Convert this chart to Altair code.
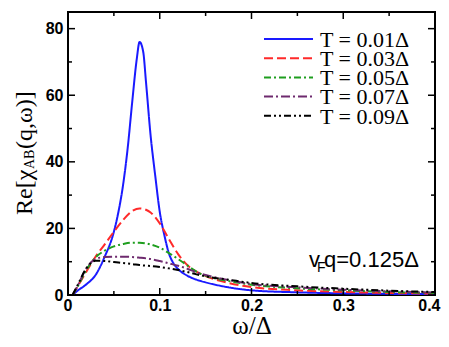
import altair as alt
import pandas as pd

# ---- data ----
omega_blue = [0.005, 0.01, 0.02, 0.03, 0.04, 0.05, 0.055, 0.06, 0.065, 0.07, 0.075, 0.078,
              0.082, 0.085, 0.09, 0.095, 0.1, 0.105, 0.11, 0.115, 0.12, 0.13, 0.14, 0.15,
              0.175, 0.2, 0.25, 0.3, 0.35, 0.4]
chi_T001 = [0, 1.2, 3.2, 6, 11.5, 19, 25, 33, 44, 58, 71, 76,
            73, 64, 48, 36, 25, 18, 12.5, 9.5, 7.8, 5.8, 4.6, 3.8,
            2.3, 1.4, 0.8, 0.5, 0.35, 0.25]

omega_rest = [0.005, 0.01, 0.02, 0.03, 0.04, 0.05, 0.06, 0.07, 0.078, 0.085, 0.09, 0.1,
              0.11, 0.12, 0.13, 0.14, 0.15, 0.175, 0.2, 0.25, 0.3, 0.35, 0.4]
chi_T003 = [0, 2.3, 7, 11.5, 15.2, 19, 22.5, 25.2, 26, 25.6, 24.8, 21.5,
            16.8, 12.3, 9, 7, 5.7, 3.6, 2.4, 1.4, 0.9, 0.6, 0.4]
chi_T005 = [0, 2.3, 7.5, 11.3, 13.3, 14.6, 15.3, 15.7, 15.7, 15.5, 15.2, 14.2,
            12.6, 10.8, 8.9, 7.0, 5.8, 4.2, 3.1, 2.0, 1.4, 0.9, 0.6]
chi_T007 = [0, 2.5, 8, 10.8, 11.4, 11.5, 11.5, 11.4, 11.2, 11.0, 10.8, 10.2,
            9.5, 8.8, 7.9, 6.8, 6.0, 4.5, 3.3, 2.3, 1.6, 1.1, 0.7]
chi_T009 = [0, 2.7, 8, 10.3, 10.2, 9.9, 9.6, 9.3, 9.0, 8.8, 8.7, 8.4,
            8.0, 7.5, 6.9, 6.2, 5.6, 4.6, 3.6, 2.6, 1.9, 1.3, 0.9]

labels = ["T = 0.01Δ", "T = 0.03Δ", "T = 0.05Δ", "T = 0.07Δ", "T = 0.09Δ"]
colors = ["#1a1aff", "#ff2a2a", "#1e9e1e", "#6e2a6e", "#000000"]
dashes = [[1, 0], [9, 4], [7, 3, 2, 3], [9, 3, 2, 3], [7, 3, 2, 3, 2, 3]]

x_major = [0, 0.1, 0.2, 0.3, 0.4]
x_minor = [0.05, 0.15, 0.25, 0.35]
y_major = [0, 20, 40, 60, 80]
y_minor = [10, 30, 50, 70]

W, H = 367, 283

rows = []
for w, c in zip(omega_blue, chi_T001):
    rows.append({"omega": w, "chi": c, "T": labels[0]})
for lab, ser in zip(labels[1:], [chi_T003, chi_T005, chi_T007, chi_T009]):
    for w, c in zip(omega_rest, ser):
        rows.append({"omega": w, "chi": c, "T": lab})
df = pd.DataFrame(rows)

xs = alt.Scale(domain=[0, 0.4], nice=False, zero=False)
ys = alt.Scale(domain=[0, 85], nice=False)
cs = alt.Scale(domain=labels, range=colors)
ds = alt.Scale(domain=labels, range=dashes)

lines = alt.Chart(df).mark_line(strokeWidth=2, interpolate="monotone", clip=True).encode(
    x=alt.X("omega:Q", scale=xs,
            axis=alt.Axis(values=x_major, ticks=False, domain=False, grid=False,
                          labelExpr="datum.value == 0 ? '0' : format(datum.value, '.1f')",
                          labelFont="Liberation Sans", labelFontSize=16, labelFontWeight="bold",
                          labelColor="black", labelPadding=2,
                          labelFlush=True, labelFlushOffset=5,
                          title="ω/Δ", titleFont="Liberation Serif", titleFontSize=25,
                          titleFontWeight="normal", titleColor="black",
                          titleY=38, titleBaseline="alphabetic")),
    y=alt.Y("chi:Q", scale=ys,
            axis=alt.Axis(values=y_major, ticks=False, domain=False, grid=False,
                          labelFont="Liberation Sans", labelFontSize=16, labelFontWeight="bold",
                          labelColor="black", labelPadding=5, title=None)),
    color=alt.Color("T:N", scale=cs, legend=None),
    strokeDash=alt.StrokeDash("T:N", scale=ds, legend=None),
    detail="T:N",
)

# inward ticks
def xticks(vals, length):
    d = pd.DataFrame({"v": vals})
    bot = alt.Chart(d).mark_rule(color="black", strokeWidth=1.5).encode(
        x=alt.X("v:Q", scale=xs), y=alt.value(H), y2=alt.value(H - length))
    top = alt.Chart(d).mark_rule(color="black", strokeWidth=1.5).encode(
        x=alt.X("v:Q", scale=xs), y=alt.value(0), y2=alt.value(length))
    return bot + top

def yticks(vals, length):
    d = pd.DataFrame({"v": vals})
    left = alt.Chart(d).mark_rule(color="black", strokeWidth=1.5).encode(
        y=alt.Y("v:Q", scale=ys), x=alt.value(0), x2=alt.value(length))
    right = alt.Chart(d).mark_rule(color="black", strokeWidth=1.5).encode(
        y=alt.Y("v:Q", scale=ys), x=alt.value(W), x2=alt.value(W - length))
    return left + right

ticks = xticks(x_major, 7) + xticks(x_minor, 4) + yticks(y_major, 7) + yticks(y_minor, 4)

# manual legend
leg = pd.DataFrame({"T": labels,
                    "ly": [27 + 19.2 * i for i in range(5)],
                    "ty": [34.7 + 19.2 * i for i in range(5)]})
leg_lines = alt.Chart(leg).mark_rule(strokeWidth=2).encode(
    x=alt.value(196), x2=alt.value(245),
    y=alt.Y("ly:Q", scale=None),
    color=alt.Color("T:N", scale=cs, legend=None),
    strokeDash=alt.StrokeDash("T:N", scale=ds, legend=None),
)
leg_text = alt.Chart(leg).mark_text(align="left", baseline="alphabetic",
                                    font="Liberation Serif", fontSize=22, color="black").encode(
    x=alt.value(252), y=alt.Y("ty:Q", scale=None), text="T:N")

# y-axis title with subscript
def txt(s, x, y, size, font, angle=0):
    return alt.Chart(pd.DataFrame({"a": [0]})).mark_text(
        text=s, align="left", baseline="alphabetic", font=font, fontSize=size,
        color="black", angle=angle).encode(x=alt.value(x), y=alt.value(y))

ytitle = (txt("Re[χ", -36.3, 203, 24, "Liberation Serif", 270)
          + txt("AB", -34, 157, 14, "Liberation Serif", 270)
          + txt("(q,ω)]", -36.3, 137, 24, "Liberation Serif", 270))

annot = (txt("v", 241, 254.7, 22, "Liberation Sans")
         + txt("F", 249, 260, 14, "Liberation Sans")
         + txt("q=0.125Δ", 256, 254.7, 22, "Liberation Sans"))

chart = alt.layer(lines, ticks, leg_lines, leg_text, ytitle, annot).properties(
    width=W, height=H,
    autosize=alt.AutoSizeParams(type="none"),
    padding={"left": 60, "top": 4, "right": 6, "bottom": 44},
    background="white",
).configure_view(stroke="black", strokeWidth=2)

chart.save("out.html", embed_options={"renderer": "svg", "actions": False})
